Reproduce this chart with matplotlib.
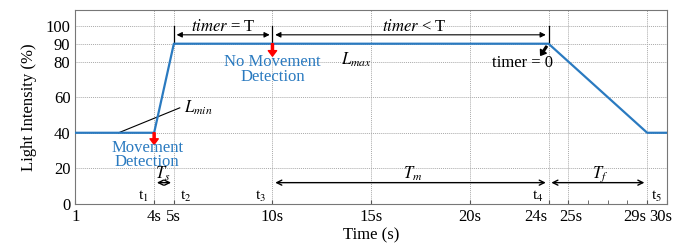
import matplotlib
matplotlib.use('Agg')
import matplotlib.pyplot as plt
from matplotlib.transforms import ScaledTranslation

plt.rcParams['font.family'] = ['Liberation Serif', 'DejaVu Serif']
plt.rcParams['mathtext.fontset'] = 'stix'

# light profile (time in s, intensity in %)
times = [0, 4, 5, 24, 29, 30]
light = [40, 40, 90, 90, 40, 40]

xticks = [0, 4, 5, 10, 15, 20, 24, 25, 29, 30]
xticklabels = ['1', '4s', '5s', '10s', '15s', '20s', '24s', '25s', '29s', '30s']
yticks = [0, 20, 40, 60, 80, 90, 100]
grid_x = [4, 5, 10, 15, 20, 24, 25, 29]

blue = '#2a7ac0'

fig = plt.figure(figsize=(6.84, 2.47), dpi=100)
ax = fig.add_axes([0.11, 0.174, 0.865, 0.786])

ax.plot(times, light, color=blue, lw=1.6, zorder=3)

ax.set_xlim(0, 30)
ax.set_ylim(0, 109)
ax.set_xticks(xticks)
ax.set_xticklabels(xticklabels, fontsize=12)
ax.set_yticks(yticks)
ax.set_yticklabels([str(v) for v in yticks], fontsize=12)
ax.set_xticks([26, 27, 28], minor=True)
ax.tick_params(which='both', direction='in', length=3, color='#555555')
ax.tick_params(axis='y', length=0)
for s in ax.spines.values():
    s.set_color('#777777')

# nudge crowded tick labels apart (pixels -> inches at 100 dpi)
shifts = {'24s': -13, '25s': 3, '29s': -12, '30s': -6}
for lbl in ax.get_xticklabels():
    dx = shifts.get(lbl.get_text(), 0)
    if dx:
        lbl.set_transform(lbl.get_transform() + ScaledTranslation(dx / 100, 0, fig.dpi_scale_trans))

for x in grid_x:
    ax.axvline(x, color='#aaaaaa', lw=0.7, ls=(0, (1, 1)), zorder=1)
for y in [20, 40, 60, 80, 90, 100]:
    ax.axhline(y, color='#aaaaaa', lw=0.7, ls=(0, (1, 1)), zorder=1)

ax.set_xlabel('Time (s)', fontsize=12, labelpad=2)
ax.set_ylabel('Light Intensity (%)', fontsize=12, labelpad=6)

# detection markers
red_arrow = dict(facecolor='red', edgecolor='red', width=1.5, headwidth=6, headlength=4)
ax.annotate('', xy=(4, 33.5), xytext=(4, 40), arrowprops=red_arrow)
ax.text(3.65, 27.5, 'Movement\nDetection', color=blue, fontsize=12,
        ha='center', va='center', linespacing=0.88)
ax.annotate('', xy=(10, 83), xytext=(10, 90), arrowprops=red_arrow)
ax.text(10, 75.5, 'No Movement\nDetection', color=blue, fontsize=12,
        ha='center', va='center', linespacing=0.9)

# L_min / L_max
ax.plot([2.2, 5.3], [40, 54], color='black', lw=0.8)
ax.text(5.5, 54, '$L_{min}$', fontsize=12, va='center')
ax.text(13.5, 81, '$L_{max}$', fontsize=12, va='center')

# timer arrows
for x in [5, 10, 24]:
    ax.plot([x, x], [90, 100], color='black', lw=0.9)
ax.annotate('', xy=(5, 95), xytext=(10, 95),
            arrowprops=dict(arrowstyle='<|-|>', color='black', lw=0.8, mutation_scale=8))
ax.text(7.5, 99.5, '$timer$ = T', fontsize=12, ha='center', va='center')
ax.annotate('', xy=(24, 95), xytext=(10, 95),
            arrowprops=dict(arrowstyle='<|-|>', color='black', lw=0.8, mutation_scale=8))
ax.text(17.2, 99.5, '$timer$ < T', fontsize=12, ha='center', va='center')
ax.annotate('', xy=(23.6, 83.5), xytext=(23.9, 88.5),
            arrowprops=dict(facecolor='black', edgecolor='black', width=1.2, headwidth=5, headlength=3.5))
ax.text(22.7, 79, 'timer = 0', fontsize=12, ha='center', va='center')

# duration arrows
for x0, x1, lab, lx in [(4, 5, '$T_s$', 4.45), (10, 24, '$T_m$', 17.1), (24, 29, '$T_f$', 26.6)]:
    ax.annotate('', xy=(x0, 12), xytext=(x1, 12),
                arrowprops=dict(arrowstyle='<->', color='black', lw=1.0, mutation_scale=9))
    ax.text(lx, 16.8, lab, fontsize=12, ha='center', va='center')

# time instants
for lab, x in [('t$_1$', 3.45), ('t$_2$', 5.6), ('t$_3$', 9.4), ('t$_4$', 23.45), ('t$_5$', 29.5)]:
    ax.text(x, 4, lab, fontsize=11, ha='center', va='center')

fig.savefig('out.png', dpi=100)
